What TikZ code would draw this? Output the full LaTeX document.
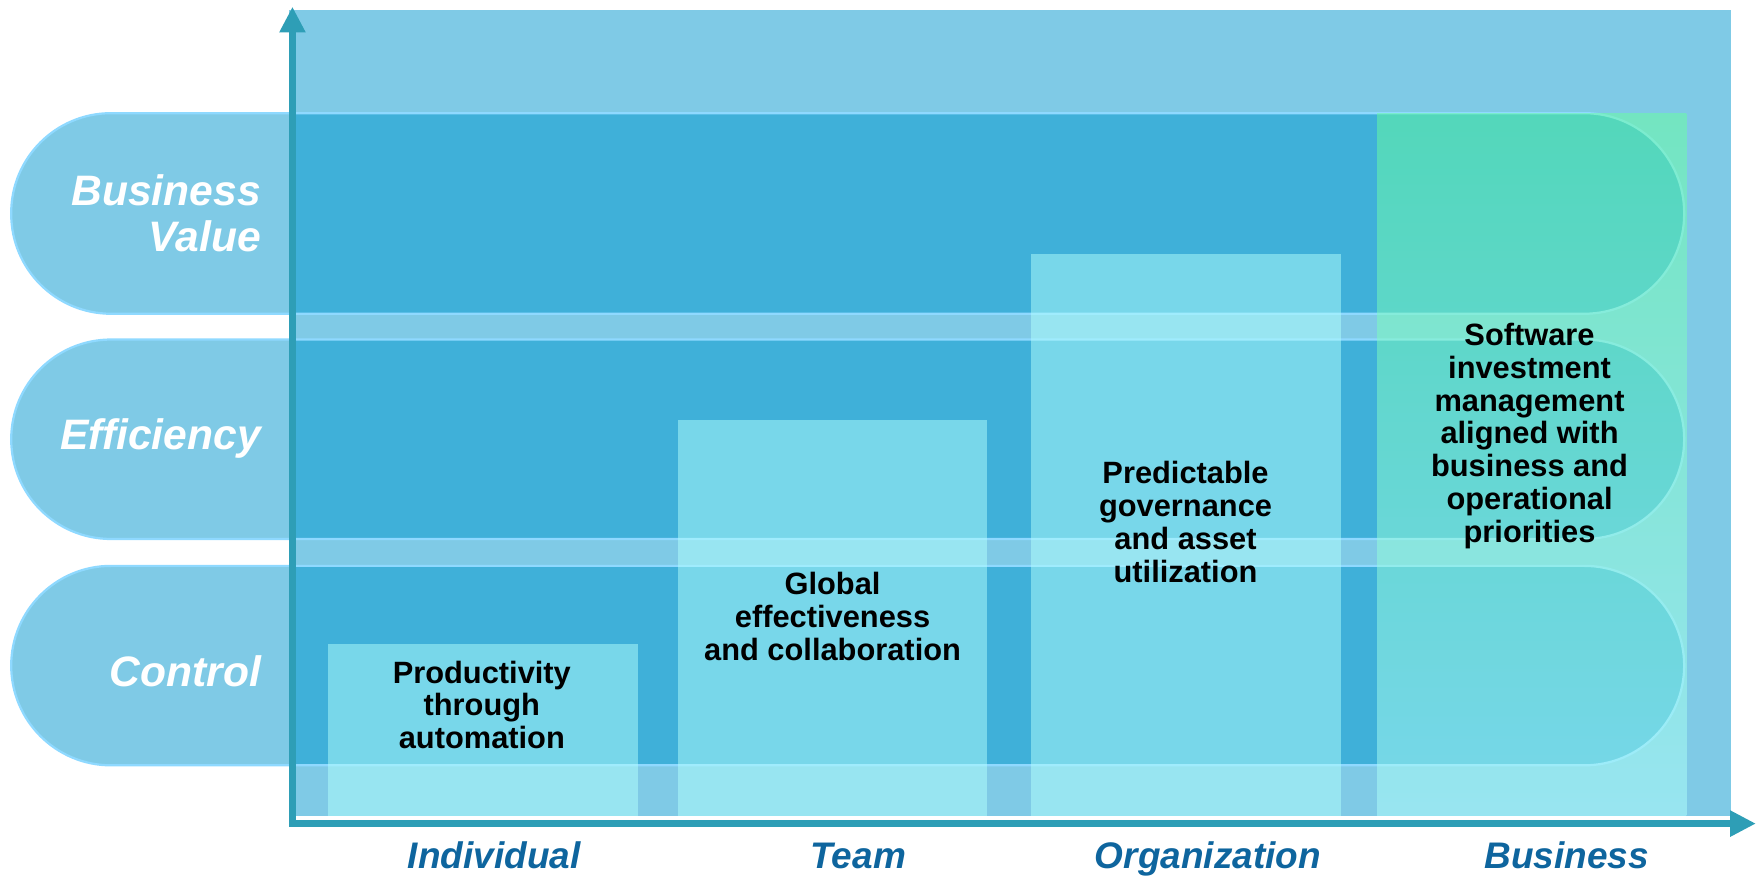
\documentclass[tikz,border=0pt]{standalone}
\usepackage{fontspec}
\setmainfont{Liberation Sans}
\usetikzlibrary{arrows.meta}
\definecolor{pillc}{RGB}{0,150,205}
\definecolor{barc}{RGB}{178,255,252}
\definecolor{greent}{RGB}{104,255,157}
\definecolor{axisc}{RGB}{46,158,182}
\definecolor{labc}{RGB}{14,101,158}
\definecolor{pillborder}{RGB}{143,217,255}
\tikzset{
  backrect/.style={fill=pillc, fill opacity=0.5},
  pill/.style={fill=pillc, fill opacity=0.5, draw=pillborder, line width=2pt, rounded corners=89pt},
  barrect/.style={fill=barc, fill opacity=0.5},
  axisline/.style={draw=axisc, line width=6pt, line join=miter,
    {Triangle[width=22pt,length=23pt]}-{Triangle[width=22pt,length=23pt]}},
  ylab/.style={font=\fontsize{38}{41}\selectfont\bfseries\itshape, text=white, inner sep=0pt},
  xlab/.style={font=\fontsize{33}{36}\selectfont\bfseries\itshape, text=labc, inner sep=0pt},
  bartext/.style={font=\fontsize{27.5}{29.3}\selectfont\bfseries, text=black, align=center, inner sep=0pt}
}
\begin{document}
\begin{tikzpicture}[x=1pt,y=-1pt]
\useasboundingbox (0,0) rectangle (1568,781);
% background
\path[backrect] (258,9) rectangle (1545,728);
% pills
\path[pill] (10,101) rectangle (1503,280);
\path[pill] (10,303) rectangle (1503,481);
\path[pill] (10,505) rectangle (1503,683);
% bars
\path[barrect] (293,575) rectangle (569,728);
\path[barrect] (605,375) rectangle (881,728);
\path[barrect] (920,227) rectangle (1197,728);
\shade[top color=greent, bottom color=barc, fill opacity=0.5] (1229,101) rectangle (1505,728);
% axes
\coordinate (ytip) at (261,6);
\coordinate (origin) at (261,735);
\coordinate (xtip) at (1567,735);
\draw[axisline] (ytip) -- (origin) -- (xtip);
% row labels
\node[ylab, anchor=base east] (bv1) at (233,183) {Business};
\node[ylab, anchor=base east] (bv2) at (233,224) {Value};
\node[ylab, anchor=base east] (eff) at (233,401) {Efficiency};
\node[ylab, anchor=base east] (ctl) at (233,613) {Control};
% column labels
\node[xlab, anchor=base] (ind) at (441,775) {Individual};
\node[xlab, anchor=base] (team) at (766,775) {Team};
\node[xlab, anchor=base] (org) at (1078,775) {Organization};
\node[xlab, anchor=base] (bus) at (1398,775) {Business};
% bar texts
\node[bartext] (t1) at (430,629) {Productivity\\through\\automation};
\node[bartext] (t2) at (743,550) {Global\\effectiveness\\and collaboration};
\node[bartext] (t3) at (1058,466) {Predictable\\governance\\and asset\\utilization};
\node[bartext] (t4) at (1365,389) {Software\\investment\\management\\aligned with\\business and\\operational\\priorities};
\end{tikzpicture}
\end{document}
